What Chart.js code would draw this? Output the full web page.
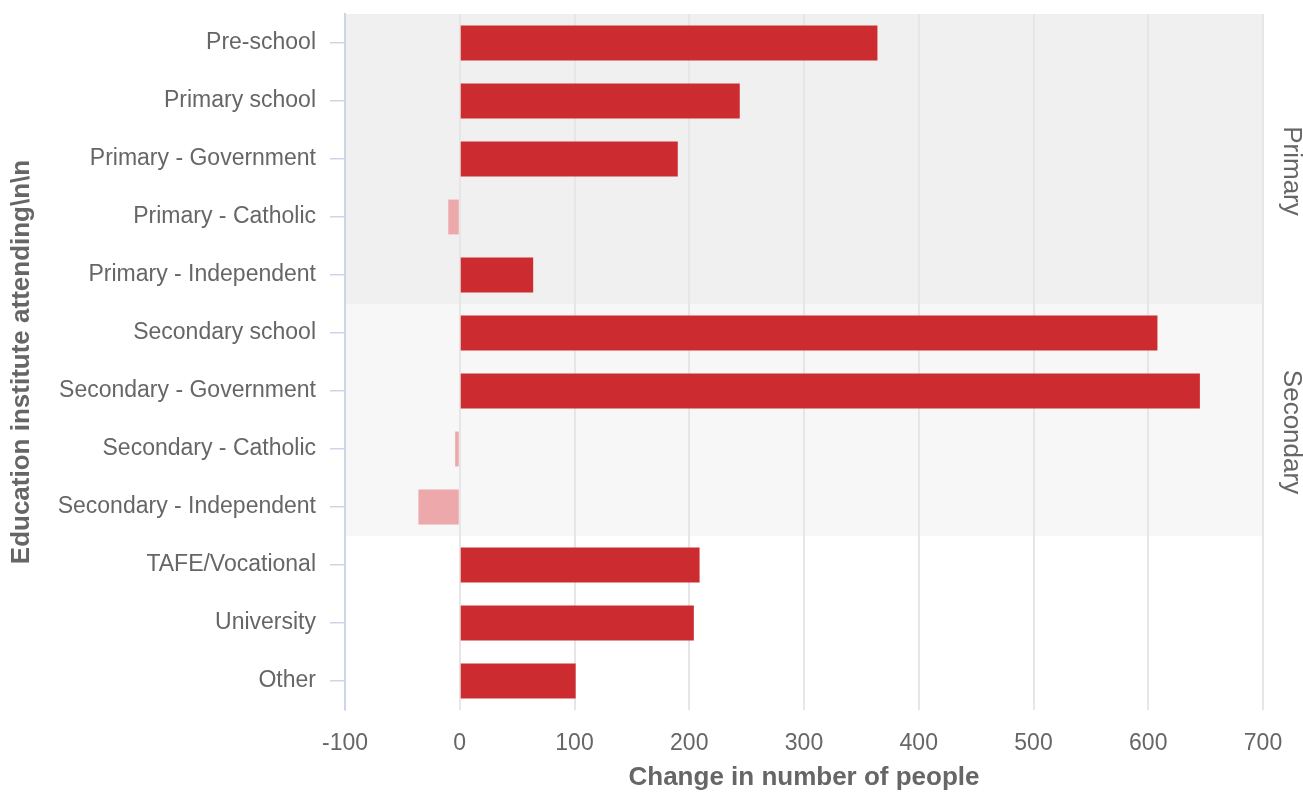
<!DOCTYPE html>
<html>
<head>
<meta charset="utf-8">
<script src="https://cdn.jsdelivr.net/npm/chart.js@4.4.1/dist/chart.umd.min.js"></script>
<style>
  html, body { margin: 0; padding: 0; background: #fff; }
  #wrap { width: 1303px; height: 793px; }
</style>
</head>
<body>
<div id="wrap"><canvas id="myChart" width="1303" height="793"></canvas></div>
<script>
var categories = ['Pre-school', 'Primary school', 'Primary - Government', 'Primary - Catholic',
    'Primary - Independent', 'Secondary school', 'Secondary - Government', 'Secondary - Catholic',
    'Secondary - Independent', 'TAFE/Vocational', 'University', 'Other'];
var change = [364, 244, 190, -10, 64, 608, 645, -4, -36, 209, 204, 101];
var xTicks = [-100, 0, 100, 200, 300, 400, 500, 600, 700];
var groupNames = ['Primary', 'Secondary'];
var groupFirst = [0, 5];
var groupLast = [4, 8];
var groupFill = ['#f0f0f0', '#f7f7f7'];

var font = "'Liberation Sans', Arial, Helvetica, sans-serif";

// shaded bands behind the groups, plus their labels on the right
var bandsPlugin = {
    id: 'bands',
    beforeDraw: function (chart) {
        var c = chart.ctx, area = chart.chartArea, y = chart.scales.y;
        var step = y.getPixelForValue(1) - y.getPixelForValue(0);
        c.save();
        for (var i = 0; i < groupNames.length; i++) {
            var top = y.getPixelForValue(groupFirst[i]) - step / 2;
            var bot = y.getPixelForValue(groupLast[i]) + step / 2;
            c.fillStyle = groupFill[i];
            c.fillRect(area.left, top, area.right - area.left, bot - top);
        }
        c.restore();
    },
    afterDraw: function (chart) {
        var c = chart.ctx, area = chart.chartArea, y = chart.scales.y;
        var step = y.getPixelForValue(1) - y.getPixelForValue(0);
        c.save();
        c.fillStyle = '#666666';
        c.font = '26px ' + font;
        c.textAlign = 'center';
        c.textBaseline = 'middle';
        for (var i = 0; i < groupNames.length; i++) {
            var top = y.getPixelForValue(groupFirst[i]) - step / 2;
            var bot = y.getPixelForValue(groupLast[i]) + step / 2;
            c.save();
            c.translate(area.right + 28, (top + bot) / 2 + 12);
            c.rotate(Math.PI / 2);
            c.fillText(groupNames[i], 0, 0);
            c.restore();
        }
        c.restore();
    }
};

var ctx = document.getElementById('myChart');
var myChart = new Chart(ctx, {
    type: 'bar',
    data: {
        labels: categories,
        datasets: [{
            data: change,
            backgroundColor: change.map(function (v) { return v < 0 ? '#eca8aa' : '#cc2b30'; }),
            borderWidth: 0,
            categoryPercentage: 1,
            barPercentage: 0.6
        }]
    },
    options: {
        indexAxis: 'y',
        responsive: false,
        animation: false,
        layout: { padding: { top: 14, right: 40, left: 0, bottom: 0 } },
        plugins: { legend: { display: false }, tooltip: { enabled: false } },
        scales: {
            x: {
                min: -100,
                max: 700,
                afterBuildTicks: function (scale) {
                    scale.ticks = xTicks.map(function (v) { return { value: v }; });
                },
                afterFit: function (scale) { scale.height = 83; },
                grid: { color: '#e6e6e6', lineWidth: 2, drawTicks: false },
                border: { display: false },
                ticks: { color: '#666666', font: { family: font, size: 23 }, padding: 20 },
                title: {
                    display: true,
                    text: 'Change in number of people',
                    color: '#666666',
                    font: { family: font, size: 26, weight: 'bold' },
                    padding: { top: 0, bottom: 0 }
                }
            },
            y: {
                afterFit: function (scale) {
                    scale.width = 345;
                    // category labels sit at band centres, no overflow to reserve
                    scale.paddingTop = 0;
                    scale.paddingBottom = 0;
                },
                grid: { drawOnChartArea: false, offset: false, tickLength: 15, color: '#ccd6eb', lineWidth: 1.5 },
                border: { display: true, color: '#ccd6eb', width: 2 },
                ticks: { color: '#666666', font: { family: font, size: 23 }, padding: 14, autoSkip: false },
                title: {
                    display: true,
                    text: 'Education institute attending\\n\\n',
                    color: '#666666',
                    font: { family: font, size: 26, weight: 'bold' },
                    padding: { top: 6, bottom: 0 }
                }
            }
        }
    },
    plugins: [bandsPlugin]
});
</script>
</body>
</html>
